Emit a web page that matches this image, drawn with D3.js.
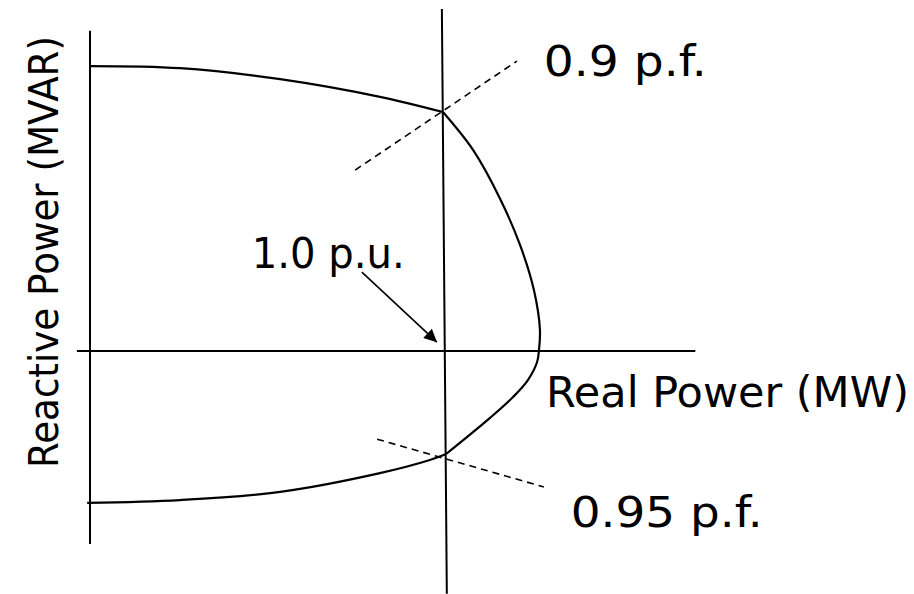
<!DOCTYPE html>
<html>
<head>
<meta charset="utf-8">
<script src="https://cdn.jsdelivr.net/npm/d3@7"></script>
<style>
  body { margin: 0; background: #fff; }
  svg text { font-family: "DejaVu Sans", sans-serif; fill: #000; }
</style>
</head>
<body>
<div id="chart"></div>
<script>
// values in per-unit: P = real power, Q = reactive power
const axisP = [[-0.037, 0], [1.71, 0]];
const axisQ = [[0, 0.905], [0, -0.545]];
const unitLine = [[0.994, 0.966], [1.008, -0.686]];

// field current limit (upper), armature limit (right), end region limit (lower)
const fieldArc = [[0, 0.805], [0.254, 0.799], [0.537, 0.768], [0.819, 0.718], [0.997, 0.675]];
const armatureArc = [[0.997, 0.675], [1.082, 0.568], [1.158, 0.431], [1.215, 0.299], [1.254, 0.172],
  [1.271, 0.06], [1.268, 0], [1.263, -0.031], [1.237, -0.082], [1.195, -0.130], [1.130, -0.189], [1.006, -0.291]];
const endArc = [[1.006, -0.291], [0.96, -0.308], [0.819, -0.345], [0.537, -0.398], [0.254, -0.421], [-0.008, -0.429]];

const pfLines = [
  { label: '0.9 p.f.', pts: [[0.749, 0.511], [1.206, 0.819]] },
  { label: '0.95 p.f.', pts: [[0.811, -0.249], [1.282, -0.384]] }
];

const labels = [
  { text: '0.9 p.f.', p: 1.282, q: 0.777 },
  { text: 'Real Power (MW)', p: 1.288, q: -0.158 },
  { text: '0.95 p.f.', p: 1.358, q: -0.497 },
  { text: '1.0 p.u.', p: 0.457, q: 0.234 }
];
const arrowPts = [[0.768, 0.223], [0.980, 0.025]];
const yTitle = 'Reactive Power (MVAR)';

// rendered widths of the labels, px
const labelWidths = [163, 363, 192, 153];
const yTitleWidth = 432;

const width = 914, height = 594;
const x = d3.scaleLinear().domain([0, 1]).range([90, 444]);
const y = d3.scaleLinear().domain([0, 1]).range([351, -3]);

const svg = d3.select('#chart').append('svg')
  .attr('width', width).attr('height', height);

svg.append('defs').append('marker')
  .attr('id', 'head')
  .attr('viewBox', '0 0 10 10')
  .attr('refX', 10).attr('refY', 5)
  .attr('markerWidth', 10).attr('markerHeight', 8)
  .attr('markerUnits', 'strokeWidth')
  .attr('orient', 'auto')
  .append('path').attr('d', 'M0,0 L10,5 L0,10 z').attr('fill', '#000');

const straight = d3.line().x(d => x(d[0])).y(d => y(d[1]));
const smooth = d3.line().x(d => x(d[0])).y(d => y(d[1])).curve(d3.curveCatmullRom.alpha(0.5));

// axes
[axisP, axisQ, unitLine].forEach(pts => {
  svg.append('path').attr('d', straight(pts))
    .attr('fill', 'none').attr('stroke', '#000').attr('stroke-width', 2);
});

// capability curve
[fieldArc, armatureArc, endArc].forEach(pts => {
  svg.append('path').attr('d', smooth(pts))
    .attr('fill', 'none').attr('stroke', '#000').attr('stroke-width', 2.2)
    .attr('stroke-linejoin', 'round');
});

// power factor lines
svg.selectAll('.pf')
  .data(pfLines)
  .enter()
  .append('path')
  .attr('class', 'pf')
  .attr('d', d => straight(d.pts))
  .attr('fill', 'none').attr('stroke', '#000').attr('stroke-width', 1.6)
  .attr('stroke-dasharray', '7,5');

// arrow to 1.0 p.u.
svg.append('path').attr('d', straight(arrowPts))
  .attr('stroke', '#000').attr('stroke-width', 1.6)
  .attr('marker-end', 'url(#head)');

svg.selectAll('.lbl')
  .data(labels)
  .enter()
  .append('text')
  .attr('class', 'lbl')
  .attr('x', d => x(d.p))
  .attr('y', d => y(d.q))
  .attr('textLength', (d, i) => labelWidths[i])
  .attr('lengthAdjust', 'spacingAndGlyphs')
  .style('font-size', '42px')
  .text(d => d.text);

svg.append('text')
  .attr('transform', `translate(${58},${468}) rotate(-90)`)
  .attr('textLength', yTitleWidth)
  .attr('lengthAdjust', 'spacingAndGlyphs')
  .style('font-size', '40px')
  .text(yTitle);
</script>
</body>
</html>
